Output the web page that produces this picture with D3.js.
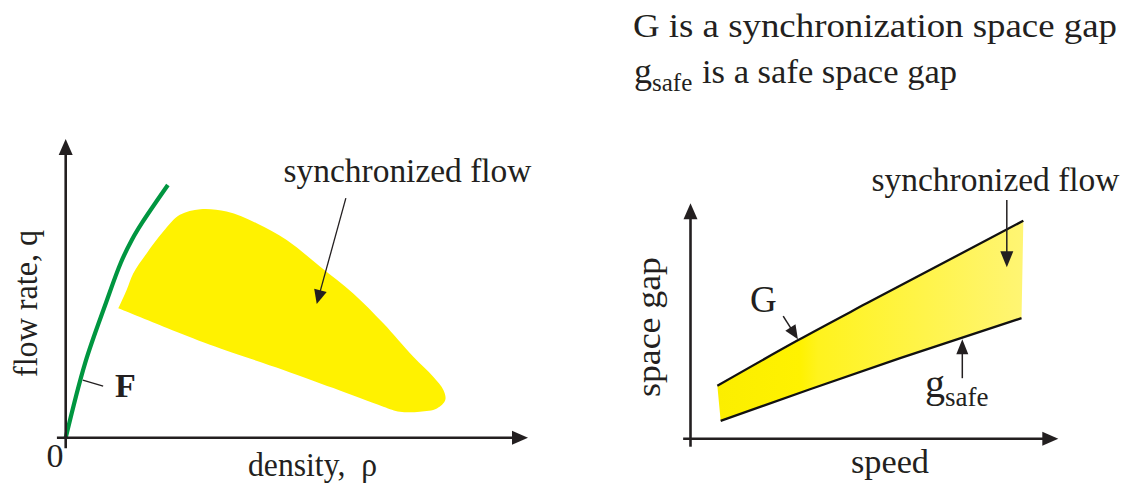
<!DOCTYPE html>
<html>
<head>
<meta charset="utf-8">
<script src="https://cdn.jsdelivr.net/npm/d3@7"></script>
<style>
  html, body { margin: 0; padding: 0; background: #fff; }
  svg { display: block; }
  text { font-family: "Liberation Serif", "Times New Roman", serif; fill: #231f20; }
</style>
</head>
<body>
<svg id="chart"></svg>
<script>
const W = 1123, H = 493;
const INK = "#231f20";

// left panel: flow rate q vs density rho (both 0..100, arbitrary units)
const freeFlow = [[0, 0], [4.2, 25.0], [8.7, 45.1], [11.9, 58.5], [14.3, 66.2], [16.5, 71.9], [22.1, 84.6]];
// outline of the synchronized flow region, starting and ending at its left tip
const syncRegion = [
    [11.4, 43.3], [13.2, 49.5], [14.6, 55.0], [17.5, 61.7], [21.1, 69.0], [24.7, 74.6],
    [29.1, 76.5], [34.8, 75.7], [41.3, 71.8], [47.8, 66.2], [55.0, 57.3], [62.2, 48.3],
    [68.7, 38.3], [75.2, 27.1], [79.5, 20.4], [81.7, 16.0], [82.1, 12.6], [80.3, 9.8],
    [76.6, 8.7], [72.3, 8.7], [68.7, 10.4], [57.9, 16.6], [47.1, 22.7], [31.2, 31.1],
    [21.9, 36.7], [11.4, 43.3]
];

// right panel: space gap vs speed (both 0..100, arbitrary units)
const gapG = [[7.3, 22.5], [29.3, 41.9], [47.9, 57.5], [90.5, 92.6]];
const gapSafe = [[8.2, 7.6], [32.5, 21.0], [57.0, 34.2], [90.0, 51.2]];

const svg = d3.select("#chart")
    .attr("width", W)
    .attr("height", H)
    .attr("viewBox", `0 0 ${W} ${H}`);

const defs = svg.append("defs");
const grad = defs.append("linearGradient")
    .attr("id", "bandFill")
    .attr("gradientUnits", "userSpaceOnUse")
    .attr("x1", 717).attr("y1", 0).attr("x2", 1024).attr("y2", 0);
[["0", "#fbee00"], ["0.27", "#fff200"], ["0.33", "#fff31e"], ["1", "#fff574"]].forEach(([o, c]) => {
    grad.append("stop").attr("offset", o).attr("stop-color", c);
});

// scales
const xL = d3.scaleLinear().domain([0, 100]).range([65.7, 528]);
const yL = d3.scaleLinear().domain([0, 100]).range([437.7, 139]);
const xR = d3.scaleLinear().domain([0, 100]).range([690.5, 1058.3]);
const yR = d3.scaleLinear().domain([0, 100]).range([438.7, 203.3]);

// line with a filled triangular head at (x2,y2)
function arrow(x1, y1, x2, y2, len, wid, sw) {
    const dx = x2 - x1, dy = y2 - y1, d = Math.hypot(dx, dy);
    const ux = dx / d, uy = dy / d;
    const bx = x2 - ux * len, by = y2 - uy * len;
    svg.append("line")
        .attr("x1", x1).attr("y1", y1)
        .attr("x2", bx + ux * 1).attr("y2", by + uy * 1)
        .attr("stroke", INK).attr("stroke-width", sw);
    svg.append("polygon")
        .attr("points", [
            [x2, y2],
            [bx - uy * wid / 2, by + ux * wid / 2],
            [bx + uy * wid / 2, by - ux * wid / 2]
        ].map(p => p.join(",")).join(" "))
        .attr("fill", INK);
}

// ---- left panel ----
const blobLine = d3.line().x(d => xL(d[0])).y(d => yL(d[1])).curve(d3.curveCatmullRom.alpha(0.5));
svg.append("path")
    .datum(syncRegion)
    .attr("d", d => blobLine(d) + "Z")
    .attr("fill", "#fff200")
    .attr("stroke", "none");

svg.append("path")
    .datum(freeFlow)
    .attr("d", d3.line().x(d => xL(d[0])).y(d => yL(d[1])).curve(d3.curveCatmullRom.alpha(0.5)))
    .attr("fill", "none")
    .attr("stroke", "#009640")
    .attr("stroke-width", 4.2);

// axes
arrow(xL(0), yL(-3.5), xL(0), yL(100), 16, 14, 2.6);
arrow(xL(-1.9), yL(0), xL(100), yL(0), 16, 14, 2.6);

// leader for F
svg.append("line")
    .attr("x1", xL(3.7)).attr("y1", yL(19.3))
    .attr("x2", xL(8.1)).attr("y2", yL(17.3))
    .attr("stroke", INK).attr("stroke-width", 1.3);

arrow(xL(60.6), yL(80.2), xL(54.3), yL(44.8), 14, 13, 1.3);

svg.append("text").attr("x", 55).attr("y", 467).attr("text-anchor", "middle")
    .style("font-size", "34px").text("0");
svg.append("text").attr("x", 115).attr("y", 397)
    .style("font-size", "34px").style("font-weight", "bold").text("F");
svg.append("text").attr("x", 283.5).attr("y", 182)
    .attr("textLength", 248).attr("lengthAdjust", "spacingAndGlyphs")
    .style("font-size", "33px").text("synchronized flow");
svg.append("text").attr("x", 248).attr("y", 476)
    .attr("textLength", 129).attr("lengthAdjust", "spacingAndGlyphs")
    .style("font-size", "33px").style("white-space", "pre").text("density,  ρ");
svg.append("text")
    .attr("transform", "translate(37,377) rotate(-90)")
    .attr("textLength", 147).attr("lengthAdjust", "spacingAndGlyphs")
    .style("font-size", "33px").text("flow rate, q");

// ---- right panel ----
const band = gapG.concat(gapSafe.slice().reverse());
svg.append("path")
    .datum(band)
    .attr("d", d3.line().x(d => xR(d[0])).y(d => yR(d[1])))
    .attr("fill", "url(#bandFill)")
    .attr("stroke", "none");

const edge = d3.line().x(d => xR(d[0])).y(d => yR(d[1])).curve(d3.curveMonotoneX);
[gapG, gapSafe].forEach(s => {
    svg.append("path")
        .datum(s)
        .attr("d", edge)
        .attr("fill", "none")
        .attr("stroke", "#111")
        .attr("stroke-width", 2.3);
});

arrow(xR(0), yR(-3.4), xR(0), yR(100), 16, 14, 2.6);
arrow(xR(-2.0), yR(0), xR(100), yR(0), 16, 14, 2.6);

arrow(xR(25.2), yR(52.1), xR(29.2), yR(42.2), 14, 12, 1.5);
arrow(xR(73.9), yR(25.7), xR(73.9), yR(42.2), 15, 12, 1.5);
arrow(xR(86.0), yR(101.4), xR(86.0), yR(72.8), 16, 13, 1.5);

svg.append("text").attr("x", 750).attr("y", 311.5)
    .style("font-size", "37px").text("G");
const gs = svg.append("text").attr("x", 925).attr("y", 397).style("font-size", "40px");
gs.append("tspan").text("g");
gs.append("tspan").attr("dy", 9).style("font-size", "27px").text("safe");

svg.append("text").attr("x", 871.5).attr("y", 191)
    .attr("textLength", 248).attr("lengthAdjust", "spacingAndGlyphs")
    .style("font-size", "33px").text("synchronized flow");
svg.append("text").attr("x", 851).attr("y", 472.5)
    .attr("textLength", 78).attr("lengthAdjust", "spacingAndGlyphs")
    .style("font-size", "33px").text("speed");
svg.append("text")
    .attr("transform", "translate(660,397) rotate(-90)")
    .attr("textLength", 140).attr("lengthAdjust", "spacingAndGlyphs")
    .style("font-size", "33px").text("space gap");

// ---- title notes ----
svg.append("text").attr("x", 633).attr("y", 37)
    .attr("textLength", 484).attr("lengthAdjust", "spacingAndGlyphs")
    .style("font-size", "34px").text("G is a synchronization space gap");
const t2 = svg.append("text").attr("x", 634).attr("y", 83).style("font-size", "36px");
t2.append("tspan").text("g");
t2.append("tspan").attr("dy", 8).style("font-size", "25px").text("safe");
t2.append("tspan").attr("dy", -8).attr("x", 702)
    .attr("textLength", 255).attr("lengthAdjust", "spacingAndGlyphs")
    .style("font-size", "34px").text("is a safe space gap");
</script>
</body>
</html>
